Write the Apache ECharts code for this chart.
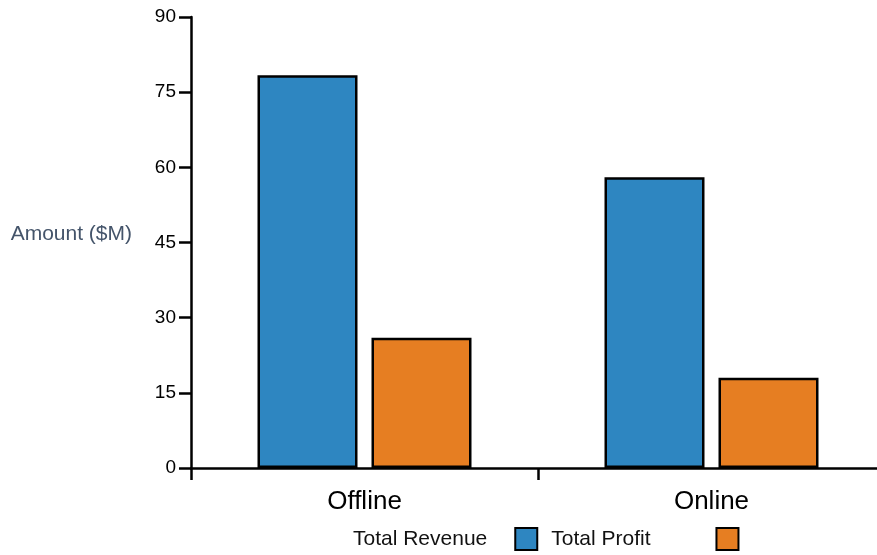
<!DOCTYPE html>
<html>
<head>
<meta charset="utf-8">
<script src="https://cdn.jsdelivr.net/npm/echarts@6/dist/echarts.min.js"></script>
<style>
  html, body { margin: 0; padding: 0; background: #fff; }
  #chart { width: 877px; height: 555px; }
</style>
</head>
<body>
<div id="chart"></div>
<script>
// Sales channels and their totals, in millions of dollars
const channels = ['Offline', 'Online'];
const totalRevenue = [78.4, 58];
const totalProfit = [26, 18];
const seriesNames = ['Total Revenue', 'Total Profit'];
const yTicks = { min: 0, max: 90, interval: 15 };

const chart = echarts.init(document.getElementById('chart'));
const font = 'Liberation Sans, Arial, Helvetica, sans-serif';

chart.setOption({
  animation: false,
  textStyle: { fontFamily: font },
  grid: { left: 191, width: 694, top: 17, height: 451, containLabel: false, outerBoundsMode: 'none' },
  legend: {
    // swatches sit after each name, in fixed-width slots
    data: [
      { name: seriesNames[0], textStyle: { padding: [0, 23, 0, 0] } },
      { name: seriesNames[1], textStyle: { padding: [0, 61, 0, 0] } }
    ],
    left: 348,
    top: 522,
    align: 'right',
    itemWidth: 22,
    itemHeight: 22,
    itemGap: 13,
    icon: 'rect',
    textStyle: { fontSize: 21, color: '#111', fontFamily: font },
    itemStyle: { borderColor: '#000', borderWidth: 2 }
  },
  xAxis: {
    type: 'category',
    data: channels,
    axisLine: { show: true, lineStyle: { color: '#000', width: 2.5 } },
    axisTick: { show: true, inside: false, length: 12, lineStyle: { color: '#000', width: 2.5 } },
    axisLabel: { fontSize: 26, color: '#000', margin: 21, fontFamily: font }
  },
  yAxis: {
    type: 'value',
    position: 'left',
    min: yTicks.min,
    max: yTicks.max,
    interval: yTicks.interval,
    name: 'Amount ($M)',
    nameLocation: 'middle',
    nameRotate: 0,
    nameGap: 59,
    nameTextStyle: { fontSize: 21, lineHeight: 17, color: '#44546a', fontFamily: font, verticalAlign: 'bottom' },
    axisLine: { show: true, lineStyle: { color: '#000', width: 2.5 } },
    axisTick: { show: true, inside: false, length: 12, lineStyle: { color: '#000', width: 2.5 } },
    axisLabel: { fontSize: 19, color: '#000', margin: 15, fontFamily: font },
    splitLine: { show: false }
  },
  series: [
    {
      name: seriesNames[0],
      type: 'bar',
      data: totalRevenue,
      barWidth: 100,
      barGap: '14%',
      itemStyle: { color: '#2e86c1', borderColor: '#000', borderWidth: 2.5 }
    },
    {
      name: seriesNames[1],
      type: 'bar',
      data: totalProfit,
      barWidth: 100,
      itemStyle: { color: '#e67e22', borderColor: '#000', borderWidth: 2.5 }
    }
  ]
});
</script>
</body>
</html>
